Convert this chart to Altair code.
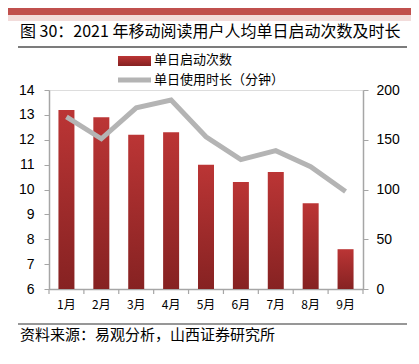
import altair as alt
import pandas as pd

months = ["1月", "2月", "3月", "4月", "5月", "6月", "7月", "8月", "9月"]
launches = [13.2, 12.9, 12.2, 12.3, 11.0, 10.3, 10.7, 9.45, 7.6]
minutes = [173, 151, 182, 190, 153, 130, 139, 123, 98]

title_text = "图 30：2021 年移动阅读用户人均单日启动次数及时长"
source_text = "资料来源：易观分析，山西证券研究所"
legend_bar = "单日启动次数"
legend_line = "单日使用时长（分钟）"

df = pd.DataFrame({"month": months, "launches": launches, "minutes": minutes})

W, H = 314, 199
CJK = "Noto Sans CJK SC"
NUM = "Liberation Sans"
AXIS_GREY = "#a6a6a6"

bar_grad = alt.Gradient(
    gradient="linear",
    stops=[alt.GradientStop(color="#bb3535", offset=0),
           alt.GradientStop(color="#862222", offset=1)],
    x1=0, x2=0, y1=0, y2=1,
)

xenc = alt.X("month:N", sort=months, title=None,
             scale=alt.Scale(paddingInner=0, paddingOuter=0),
             axis=alt.Axis(ticks=False, labelAngle=0, labelFont=CJK, labelFontSize=12,
                           labelColor="#000000", labelPadding=10,
                           domainColor=AXIS_GREY, domainWidth=1.5))

bars = alt.Chart(df).mark_bar(size=16, fill=bar_grad).encode(
    x=xenc,
    y=alt.Y("launches:Q", title=None,
            scale=alt.Scale(domain=[6, 14], zero=False, nice=False),
            axis=alt.Axis(values=[6, 7, 8, 9, 10, 11, 12, 13, 14], grid=False,
                          tickSize=5, tickColor=AXIS_GREY, domainColor=AXIS_GREY,
                          domainWidth=1.5, labelFont=NUM, labelFontSize=14,
                          labelColor="#000000", labelPadding=10)),
    y2=alt.datum(6),
)

line = alt.Chart(df).mark_line(color="#b4b4b4", strokeWidth=5).encode(
    x=alt.X("month:N", sort=months),
    y=alt.Y("minutes:Q", title=None,
            scale=alt.Scale(domain=[0, 200], nice=False),
            axis=alt.Axis(orient="right", values=[0, 50, 100, 150, 200], grid=False,
                          tickSize=5, tickColor=AXIS_GREY, domainColor=AXIS_GREY,
                          domainWidth=1.5, labelFont=NUM, labelFontSize=14,
                          labelColor="#000000", labelPadding=8)),
)

xticks = alt.Chart(df).mark_rule(color=AXIS_GREY, strokeWidth=1.2).encode(
    x=alt.X("month:N", sort=months, bandPosition=0),
    y=alt.value(H), y2=alt.value(H + 5),
)
last_tick = alt.Chart(df.head(1)).mark_rule(color=AXIS_GREY, strokeWidth=1.2).encode(
    x=alt.value(W), y=alt.value(H), y2=alt.value(H + 5),
)

one = pd.DataFrame({"a": [0]})

banner = alt.Chart(one).mark_rect(color="#c0504d").encode(
    x=alt.value(-41), x2=alt.value(370), y=alt.value(-82), y2=alt.value(-75))
pink = alt.Chart(one).mark_rect(color="#f2dcdb").encode(
    x=alt.value(-41), x2=alt.value(370), y=alt.value(-75), y2=alt.value(-69))
title = alt.Chart(one).mark_text(text=title_text, font=CJK, fontSize=16, align="left",
                                 baseline="middle", color="#000000").encode(
    x=alt.value(-29), y=alt.value(-58))
title_rule = alt.Chart(one).mark_rule(color="#505050", strokeWidth=1.5).encode(
    x=alt.value(-31), x2=alt.value(358), y=alt.value(-43))
bottom_rule = alt.Chart(one).mark_rule(color="#303030", strokeWidth=1.2).encode(
    x=alt.value(-31), x2=alt.value(358), y=alt.value(234))
source = alt.Chart(one).mark_text(text=source_text, font=CJK, fontSize=15, align="left",
                                  baseline="middle", color="#000000").encode(
    x=alt.value(-29), y=alt.value(245))

leg_rect = alt.Chart(one).mark_rect(fill=bar_grad).encode(
    x=alt.value(69), x2=alt.value(102), y=alt.value(-34), y2=alt.value(-24))
leg_rect_text = alt.Chart(one).mark_text(text=legend_bar, font=CJK, fontSize=13, align="left",
                                         baseline="middle", color="#000000").encode(
    x=alt.value(105), y=alt.value(-30))
leg_line = alt.Chart(one).mark_rule(color="#b4b4b4", strokeWidth=5).encode(
    x=alt.value(69), x2=alt.value(102), y=alt.value(-10))
leg_line_text = alt.Chart(one).mark_text(text=legend_line, font=CJK, fontSize=13, align="left",
                                         baseline="middle", color="#000000").encode(
    x=alt.value(105), y=alt.value(-10))

chart = alt.layer(
    banner, pink, title, title_rule, bottom_rule, source,
    leg_rect, leg_rect_text, leg_line, leg_line_text,
    bars, xticks, last_tick, line,
).resolve_scale(y="independent").properties(
    width=W, height=H,
    autosize=alt.AutoSizeParams(type="none"),
    padding={"left": 41, "top": 82, "right": 48, "bottom": 66},
).configure_view(stroke=None).configure(background="white")

chart.save("out.html", embed_options={"renderer": "svg", "actions": False})
